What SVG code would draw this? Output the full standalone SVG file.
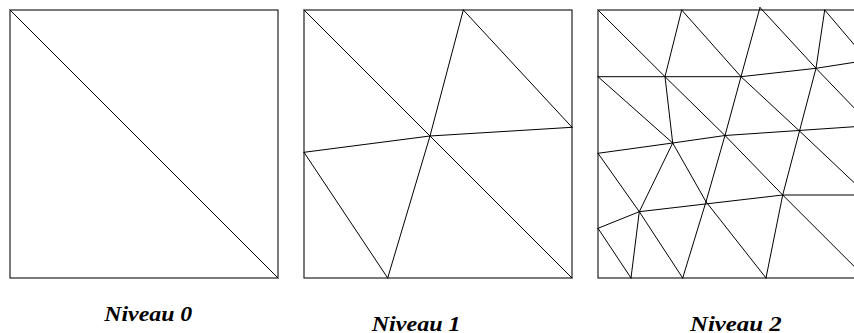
<svg xmlns="http://www.w3.org/2000/svg" width="854" height="333" viewBox="0 0 854 333">
<style>
.frame{fill:none;stroke:#222;stroke-width:1.2}
.edge{fill:none;stroke:#000;stroke-width:1;stroke-linecap:round}
.lbl{font-family:"Liberation Serif","DejaVu Serif",serif;font-weight:bold;font-style:italic;font-size:20px;fill:#000}
</style>
<rect width="854" height="333" fill="#fff"/>
<g id="niveau0">
<rect class="frame" x="10" y="10" width="268" height="268"/>
<g class="edge">
<line x1="10" y1="10" x2="278" y2="278"/>
</g>
<text class="lbl" x="104.3" y="321" textLength="88" lengthAdjust="spacingAndGlyphs">Niveau 0</text>
</g>
<g id="niveau1">
<rect class="frame" x="304" y="10" width="268" height="268"/>
<g class="edge">
<line x1="304" y1="10" x2="572" y2="278"/>
<line x1="463.3" y1="10" x2="430" y2="136"/>
<line x1="430" y1="136" x2="387.7" y2="278"/>
<line x1="304" y1="152.3" x2="430" y2="136"/>
<line x1="430" y1="136" x2="572" y2="127.3"/>
<line x1="463.3" y1="10" x2="572" y2="127.3"/>
<line x1="304" y1="152.3" x2="387.7" y2="278"/>
</g>
<text class="lbl" x="371.7" y="330.7" textLength="89" lengthAdjust="spacingAndGlyphs">Niveau 1</text>
</g>
<g id="niveau2">
<rect class="frame" x="598" y="10" width="268" height="268"/>
<g class="edge">
<!-- top row -->
<line x1="598" y1="10" x2="665" y2="76.7"/>
<line x1="681.7" y1="10" x2="665" y2="76.7"/>
<line x1="681.7" y1="10" x2="741" y2="76.7"/>
<line x1="760" y1="7.5" x2="741" y2="76.7"/>
<line x1="760" y1="7.5" x2="816" y2="68.3"/>
<line x1="824.7" y1="10" x2="816" y2="68.3"/>
<line x1="824.7" y1="10" x2="854.5" y2="45"/>
<line x1="598" y1="76.7" x2="741" y2="76.7"/>
<line x1="741" y1="76.7" x2="816" y2="68.3"/>
<line x1="816" y1="68.3" x2="854.5" y2="62.3"/>
<line x1="816" y1="68.3" x2="854.5" y2="108.3"/>
<!-- second row -->
<line x1="598" y1="76.7" x2="672.7" y2="143"/>
<line x1="665" y1="76.7" x2="672.7" y2="143"/>
<line x1="665" y1="76.7" x2="725" y2="135.5"/>
<line x1="741" y1="76.7" x2="725" y2="135.5"/>
<line x1="741" y1="76.7" x2="799.5" y2="131"/>
<line x1="816" y1="68.3" x2="799.5" y2="131"/>
<line x1="672.7" y1="143" x2="725" y2="135.5"/>
<line x1="725" y1="135.5" x2="854.5" y2="126.7"/>
<line x1="799.5" y1="131" x2="854.5" y2="183"/>
<!-- third row -->
<line x1="598" y1="153.3" x2="672.7" y2="143"/>
<line x1="598" y1="153.3" x2="639.3" y2="211.7"/>
<line x1="672.7" y1="143" x2="639.3" y2="211.7"/>
<line x1="672.7" y1="143" x2="706" y2="201.7"/>
<line x1="725" y1="135.5" x2="706" y2="201.7"/>
<line x1="725" y1="135.5" x2="782.7" y2="195"/>
<line x1="799.5" y1="131" x2="782.7" y2="195"/>
<line x1="639.3" y1="211.7" x2="782.7" y2="195"/>
<line x1="782.7" y1="195" x2="854.5" y2="195"/>
<!-- bottom row -->
<line x1="598" y1="228.3" x2="639.3" y2="211.7"/>
<line x1="598" y1="228.3" x2="631" y2="278"/>
<line x1="639.3" y1="211.7" x2="631" y2="278"/>
<line x1="639.3" y1="211.7" x2="682.7" y2="278"/>
<line x1="706" y1="201.7" x2="682.7" y2="278"/>
<line x1="706" y1="201.7" x2="766" y2="278"/>
<line x1="782.7" y1="195" x2="766" y2="278"/>
<line x1="782.7" y1="195" x2="854.5" y2="266.7"/>
</g>
<text class="lbl" x="690" y="330.7" textLength="91.7" lengthAdjust="spacingAndGlyphs">Niveau 2</text>
</g>
</svg>
